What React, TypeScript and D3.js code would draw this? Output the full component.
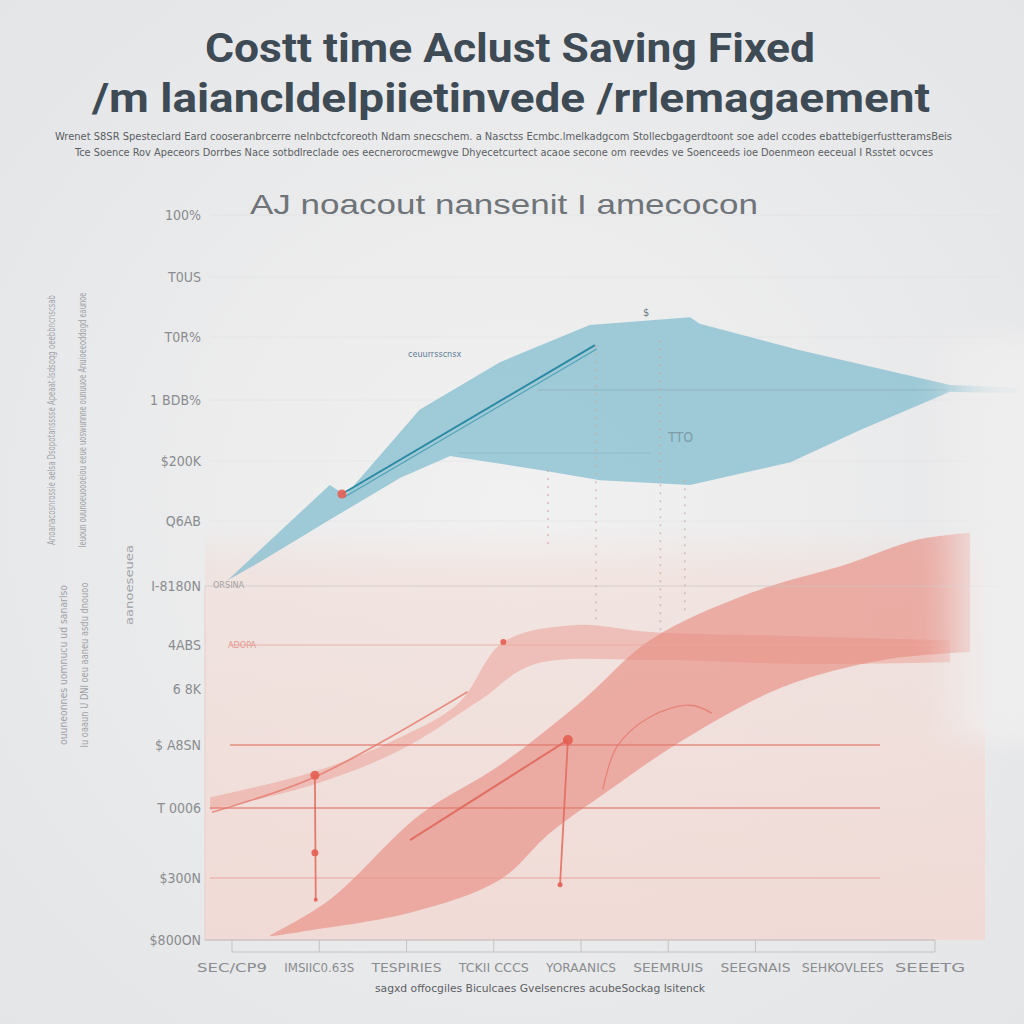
import React from "react";
import * as d3 from "d3";

// ---------- DATA ----------
const titleLines = [
  "Costt time Aclust Saving Fixed",
  "/m laiancldelpiietinvede /rrlemagaement",
];
const subtitleLines = [
  "Wrenet S8SR Spesteclard Eard cooseranbrcerre nelnbctcfcoreoth Ndam snecschem. a Nasctss Ecmbc.lmelkadgcom Stollecbgagerdtoont soe adel ccodes ebattebigerfustteramsBeis",
  "Tce Soence Rov Apeceors Dorrbes Nace sotbdlreclade oes eecnerorocmewgve Dhyecetcurtect acaoe secone om reevdes ve Soenceeds ioe Doenmeon eeceual I Rsstet ocvces",
];
const chartSubtitle = "AJ noacout  nansenit  I amecocon";

const yTickValues = [0, 1, 2, 3, 4, 5, 6, 7, 8, 9, 10, 11, 12];
const yTickLabels = [
  "$800ON", "$300N", "T 0006", "$ A8SN", "6 8K", "4ABS", "I-8180N",
  "Q6AB", "$200K", "1 BDB%", "T0R%", "T0US", "100%",
];

const categories = [
  "SEC/CP9", "IMSIIC0.63S", "TESPIRIES", "TCKII CCCS", "YORAANICS",
  "SEEMRUIS", "SEEGNAIS", "SEHKOVLEES", "SEEETG",
];
const xAxisTitle = "sagxd offocgiles Biculcaes Gvelsencres acubeSockag lsitenck";

// blue band [period, value]
const blueUpper: [number, number][] = [
  [-0.05, 6.09], [1.12, 7.6], [1.3, 7.43], [2.15, 8.84], [3.07, 9.6],
  [4.1, 10.2], [5.25, 10.33], [5.36, 10.22], [6.51, 9.79], [8.23, 9.24], [9.0, 9.2],
];
const blueLower: [number, number][] = [
  [-0.05, 6.09], [0.32, 6.37], [1.12, 7.02], [1.93, 7.72], [2.5, 8.08],
  [3.53, 7.85], [4.22, 7.68], [5.25, 7.6], [6.4, 7.98], [7.2, 8.51], [8.23, 9.13], [9.0, 9.1],
];
const blueLine: [number, number][] = [[1.26, 7.45], [4.16, 9.87]];

// red band 1 (upper, light)
const red1Upper: [number, number][] = [
  [-0.25, 2.17], [0.93, 2.57], [1.93, 3.14], [2.6, 3.75], [3.11, 5.05],
  [3.95, 5.34], [4.79, 5.22], [6.51, 5.15], [8.23, 5.08],
];
const red1Lower: [number, number][] = [
  [-0.25, 1.97], [0.93, 2.37], [1.93, 2.92], [2.84, 3.8], [3.45, 4.55],
  [4.79, 4.66], [6.51, 4.57], [8.23, 4.61],
];
// red band 2 (main)
const red2Upper: [number, number][] = [
  [0.44, 0.08], [1.12, 0.65], [2.15, 1.9], [3.07, 2.68], [4.02, 3.8],
  [4.79, 5.08], [5.94, 5.88], [7.08, 6.35], [7.85, 6.71], [8.46, 6.82],
];
const red2Lower: [number, number][] = [
  [0.44, 0.06], [0.78, 0.13], [2.07, 0.45], [3.07, 0.97], [3.64, 1.64],
  [4.33, 2.29], [5.17, 3.09], [6.32, 4.05], [7.46, 4.66], [8.46, 4.84],
];

const redLineA: [number, number][] = [[-0.23, 1.94], [0.93, 2.48], [2.7, 3.95]];
const redLineB: [number, number][] = [[2.04, 1.54], [3.85, 3.09]];
const redCurveC: [number, number][] = [[4.25, 2.29], [4.41, 2.97], [4.79, 3.5], [5.25, 3.71], [5.5, 3.57]];
const redStemA: [number, number][] = [[0.95, 2.52], [0.96, 0.65]];
const redStemB: [number, number][] = [[3.85, 3.09], [3.76, 0.89]];
const redDots: { x: number; y: number; r: number }[] = [
  { x: 0.95, y: 2.52, r: 4.5 },
  { x: 0.95, y: 1.36, r: 3.5 },
  { x: 3.11, y: 5.05, r: 3 },
  { x: 3.85, y: 3.09, r: 5 },
  { x: 3.76, y: 0.89, r: 2.5 },
  { x: 0.96, y: 0.65, r: 2 },
  { x: 1.26, y: 7.45, r: 4.5 },
];

const dottedVerticals: [number, number, number][] = [
  [3.62, 7.85, 6.63], [4.17, 9.87, 5.34], [4.91, 9.95, 5.0], [5.19, 7.68, 5.59],
];

const sideTexts = [
  "Anoanacosnrossie aelsa Dsopotansssse Apeaat-lsdsoqg oeebbncnscsab",
  "ouuneonnes uomnucu ud sanarlso",
  "Ieuoun ouunoeuoooeiou eeue uoswunnne ounuuoe Anuioeeoddogd eaunoe",
  "Iu oaaun U DNI oeu aaneu asdu dnouoo",
  "aanoeseuea",
];

// ---------- LAYOUT ----------
const W = 1024;
const H = 1024;
const Y_RANGE = [940, 878, 808, 745, 689, 645, 586, 521, 461, 400, 337, 277, 215];

export default function App() {
  const x = d3.scaleLinear().domain([0, categories.length - 1]).range([232, 930]);
  const y = d3.scaleLinear().domain(yTickValues).range(Y_RANGE);

  const lin = d3.line<[number, number]>().x((d) => x(d[0])).y((d) => y(d[1]));
  const smooth = d3
    .line<[number, number]>()
    .x((d) => x(d[0]))
    .y((d) => y(d[1]))
    .curve(d3.curveCatmullRom.alpha(0.5));

  const band = (up: [number, number][], lo: [number, number][], curved: boolean) => {
    const gen = curved ? smooth : lin;
    const a = gen(up) || "";
    const b = (gen([...lo].reverse()) || "").replace(/^M/, "L");
    return a + b + "Z";
  };

  const gridStyles: Record<number, { c: string; w: number; x0: number; x1: number; o: number }> = {
    1: { c: "#e8958a", w: 1.2, x0: 210, x1: 880, o: 0.75 },
    2: { c: "#e0786c", w: 1.5, x0: 210, x1: 880, o: 0.8 },
    3: { c: "#e0786c", w: 1.5, x0: 230, x1: 880, o: 0.8 },
    5: { c: "#e8a89e", w: 1.2, x0: 230, x1: 945, o: 0.8 },
    6: { c: "#c9c3bf", w: 1.2, x0: 205, x1: 1000, o: 0.7 },
  };

  const font = "'Liberation Sans Narrow', 'DejaVu Sans Condensed', 'Liberation Sans', sans-serif";
  const tickPositions = [0, 1, 2, 3, 4, 5, 6, 8];

  return (
    <svg
      width={W}
      height={H}
      viewBox={`0 0 ${W} ${H}`}
      style={{ position: "absolute", left: 0, top: 0, display: "block" }}
    >
      <defs>
        <radialGradient id="bg" cx="50%" cy="50%" r="70%">
          <stop offset="0%" stopColor="#f1f1f1" />
          <stop offset="100%" stopColor="#e4e5e7" />
        </radialGradient>
        <linearGradient id="pink" x1="0" y1="0" x2="0" y2="1">
          <stop offset="0%" stopColor="#f3dcd6" stopOpacity="0" />
          <stop offset="12%" stopColor="#f3dcd6" stopOpacity="0.55" />
          <stop offset="100%" stopColor="#f2d8d2" stopOpacity="0.85" />
        </linearGradient>
        <linearGradient id="fadeR" x1="0" y1="0" x2="1" y2="0">
          <stop offset="0%" stopColor="#f0efef" stopOpacity="0" />
          <stop offset="45%" stopColor="#f0efef" stopOpacity="0.85" />
          <stop offset="100%" stopColor="#efeeee" stopOpacity="1" />
        </linearGradient>
        <filter id="soft" x="-20%" y="-20%" width="140%" height="140%">
          <feGaussianBlur stdDeviation="12" />
        </filter>
      </defs>

      <rect x={0} y={0} width={W} height={H} fill="url(#bg)" />

      {/* titles */}
      {titleLines.map((t, i) => (
        <text
          key={t}
          x={i === 0 ? 205 : 92}
          y={i === 0 ? 62 : 112}
          textLength={i === 0 ? 610 : 838}
          lengthAdjust="spacingAndGlyphs"
          fontFamily="Roboto, 'Liberation Sans', Arial, sans-serif"
          fontWeight={700}
          fontSize={40}
          fill="#3e4b55"
        >
          {t}
        </text>
      ))}
      {subtitleLines.map((t, i) => (
        <text
          key={i}
          x={i === 0 ? 55 : 75}
          y={i === 0 ? 140 : 156}
          textLength={i === 0 ? 897 : 858}
          lengthAdjust="spacingAndGlyphs"
          fontFamily={font}
          fontSize={11}
          fill="#5a5e63"
        >
          {t}
        </text>
      ))}
      <text
        x={250}
        y={214}
        textLength={508}
        lengthAdjust="spacingAndGlyphs"
        fontFamily="'Liberation Sans', Arial, sans-serif"
        fontSize={28}
        fill="#6f7479"
      >
        {chartSubtitle}
      </text>

      {/* side rotated texts */}
      {[
        { x: 55, y: 420, len: 250 },
        { x: 67, y: 665, len: 160 },
        { x: 86, y: 420, len: 255 },
        { x: 88, y: 665, len: 165 },
        { x: 133, y: 585, len: 80 },
      ].map((p, i) => (
        <text
          key={i}
          transform={`translate(${p.x},${p.y}) rotate(-90)`}
          textAnchor="middle"
          textLength={p.len}
          lengthAdjust="spacingAndGlyphs"
          fontFamily={font}
          fontSize={11}
          fill="#a0a2a8"
        >
          {sideTexts[i]}
        </text>
      ))}

      {/* pink background region */}
      <rect x={205} y={525} width={780} height={y(0) - 525} fill="url(#pink)" />

      {/* faint upper gridlines */}
      {yTickValues
        .filter((v) => v >= 7)
        .map((v) => (
          <line key={v} x1={210} x2={1000} y1={y(v)} y2={y(v)} stroke="#d8d8da" strokeWidth={1} opacity={0.35} />
        ))}
      <line x1={205} x2={205} y1={y(6)} y2={y(0)} stroke="#e6cfc9" strokeWidth={1} />

      {/* blue band */}
      <path d={band(blueUpper, blueLower, false)} fill="#88bfd0" opacity={0.78} />
      <line x1={x(3.5)} x2={x(8.2)} y1={y(9.16)} y2={y(9.16)} stroke="#8aa9b3" strokeWidth={1} opacity={0.6} />
      <line x1={x(2.6)} x2={x(4.8)} y1={y(8.13)} y2={y(8.13)} stroke="#8aa9b3" strokeWidth={1} opacity={0.5} />
      {dottedVerticals.map((d, i) => (
        <line
          key={i}
          x1={x(d[0])}
          x2={x(d[0])}
          y1={y(d[1])}
          y2={y(d[2])}
          stroke="#c9a8a0"
          strokeWidth={1.5}
          strokeDasharray="2 6"
          opacity={0.7}
        />
      ))}
      <path d={lin(blueLine) || ""} fill="none" stroke="#2b8aa3" strokeWidth={2} />
      <path
        d={lin(blueLine.map((d) => [d[0] + 0.02, d[1] - 0.06] as [number, number])) || ""}
        fill="none"
        stroke="#3d98ae"
        strokeWidth={1.2}
        opacity={0.8}
      />
      <text x={408} y={357} fontFamily={font} fontSize={9} fill="#5d7d95">
        ceuurrsscnsx
      </text>
      <text x={668} y={442} fontFamily={font} fontSize={14} fill="#7d9ea9">
        TTO
      </text>
      <text x={643} y={316} fontFamily={font} fontSize={11} fill="#6c7b84">
        $
      </text>

      {/* red bands */}
      <path d={band(red1Upper, red1Lower, true)} fill="#eca79e" opacity={0.6} />
      <path d={band(red2Upper, red2Lower, true)} fill="#e88d82" opacity={0.64} />

      {/* gridlines with styles */}
      {Object.keys(gridStyles).map((k) => {
        const v = +k;
        const s = gridStyles[v];
        return (
          <line key={k} x1={s.x0} x2={s.x1} y1={y(v)} y2={y(v)} stroke={s.c} strokeWidth={s.w} opacity={s.o} />
        );
      })}
      <text x={213} y={y(6) + 2} fontFamily={font} fontSize={9} fill="#a4a4a4">
        ORSINA
      </text>
      <text x={228} y={y(5) + 3} fontFamily={font} fontSize={9} fill="#e29a90">
        ADOPA
      </text>

      {/* red lines */}
      <path d={smooth(redLineA) || ""} fill="none" stroke="#e5786b" strokeWidth={1.6} opacity={0.8} />
      <path d={lin(redLineB) || ""} fill="none" stroke="#e0685b" strokeWidth={2} opacity={0.9} />
      <path d={smooth(redCurveC) || ""} fill="none" stroke="#e5786b" strokeWidth={1.3} opacity={0.8} />
      <path d={lin(redStemA) || ""} fill="none" stroke="#e0685b" strokeWidth={1.8} opacity={0.85} />
      <path d={lin(redStemB) || ""} fill="none" stroke="#e0685b" strokeWidth={1.8} opacity={0.85} />
      {redDots.map((d, i) => (
        <circle key={i} cx={x(d.x)} cy={y(d.y)} r={d.r} fill="#e45e52" opacity={0.9} />
      ))}

      {/* right fade */}
      <rect x={930} y={340} width={120} height={400} fill="url(#fadeR)" filter="url(#soft)" />

      {/* y tick labels */}
      {yTickValues.map((v, i) => (
        <text
          key={v}
          x={201}
          y={y(v)}
          dy="0.35em"
          textAnchor="end"
          fontFamily={font}
          fontSize={14}
          fill="#8a8c90"
        >
          {yTickLabels[i]}
        </text>
      ))}

      {/* x axis */}
      <line x1={205} x2={935} y1={y(0)} y2={y(0)} stroke="#b9b6b4" strokeWidth={1.2} />
      <line x1={x(0)} x2={935} y1={952} y2={952} stroke="#c4c2c2" strokeWidth={1} />
      {tickPositions.map((t) => (
        <line
          key={t}
          x1={t === 8 ? 935 : x(t)}
          x2={t === 8 ? 935 : x(t)}
          y1={y(0)}
          y2={952}
          stroke="#c4c2c2"
          strokeWidth={1}
        />
      ))}
      {categories.map((c, i) => (
        <text
          key={c}
          x={x(i)}
          y={967}
          dy="0.35em"
          textAnchor="middle"
          textLength={i === 7 ? 82 : 70}
          lengthAdjust="spacingAndGlyphs"
          fontFamily={font}
          fontSize={13}
          fill="#8a8c90"
        >
          {c}
        </text>
      ))}
      <text
        x={540}
        y={988}
        dy="0.35em"
        textAnchor="middle"
        textLength={330}
        lengthAdjust="spacingAndGlyphs"
        fontFamily={font}
        fontSize={11}
        fill="#5d6065"
      >
        {xAxisTitle}
      </text>
    </svg>
  );
}
